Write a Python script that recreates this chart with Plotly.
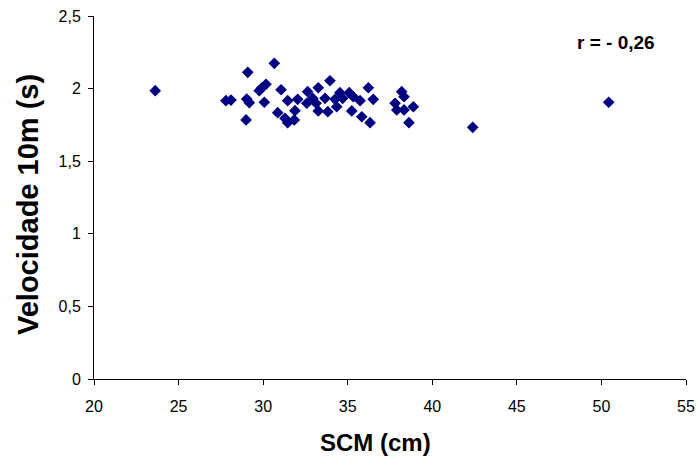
import plotly.graph_objects as go

scm = [23.62, 27.80, 28.10, 29.09, 29.03, 29.18, 28.99, 30.66, 29.77, 29.93,
       30.17, 30.07, 31.06, 30.86, 31.29, 31.45, 31.45, 31.88, 31.84, 32.04,
       32.63, 32.58, 32.93, 33.26, 33.13, 33.26, 33.66, 33.82, 33.95, 34.25,
       34.35, 34.54, 34.70, 35.09, 35.33, 35.24, 35.73, 35.83, 36.22, 36.51,
       36.32, 37.80, 38.19, 38.33, 37.90, 38.33, 38.88, 38.62, 42.39, 50.43]
vel = [1.986, 1.917, 1.921, 2.112, 1.928, 1.903, 1.784, 2.174, 1.986, 2.006,
       2.030, 1.906, 1.992, 1.834, 1.795, 1.765, 1.917, 1.848, 1.784, 1.926,
       1.979, 1.899, 1.933, 2.006, 1.899, 1.846, 1.933, 1.841, 2.054, 1.926,
       1.875, 1.972, 1.933, 1.972, 1.944, 1.846, 1.917, 1.806, 2.006, 1.926,
       1.765, 1.899, 1.979, 1.944, 1.853, 1.853, 1.875, 1.765, 1.733, 1.906]

x_ticks = [20, 25, 30, 35, 40, 45, 50, 55]
y_ticks = [0, 0.5, 1, 1.5, 2, 2.5]
y_ticktext = ["0", "0,5", "1", "1,5", "2", "2,5"]

x_title = "SCM (cm)"
y_title = "Velocidade 10m (s)"
r_text = "r = - 0,26"

fig = go.Figure()
fig.add_trace(go.Scatter(
    x=scm, y=vel, mode="markers",
    marker=dict(symbol="diamond", size=9, color="#000080",
                line=dict(width=0)),
    showlegend=False,
))

font_family = "Liberation Sans, Arial, sans-serif"
fig.update_layout(
    width=696, height=466,
    margin=dict(l=94, r=10, t=16, b=87),
    paper_bgcolor="white", plot_bgcolor="white",
    font=dict(family=font_family, color="black", size=16),
    xaxis=dict(
        range=[20, 55], tickvals=x_ticks, showgrid=False, zeroline=False,
        showline=True, linecolor="black", linewidth=1,
        ticks="outside", ticklen=5, tickcolor="black",
        tickfont=dict(size=16), ticklabelstandoff=8,
        ticklabeloverflow="allow", automargin=False,
    ),
    yaxis=dict(
        range=[0, 2.5], tickvals=y_ticks, ticktext=y_ticktext,
        showgrid=False, zeroline=False,
        showline=True, linecolor="black", linewidth=1,
        ticks="outside", ticklen=5, tickcolor="black",
        tickfont=dict(size=16), ticklabelstandoff=4,
        ticklabeloverflow="allow", automargin=False,
    ),
    annotations=[
        dict(x=0.882, y=0.927, xref="paper", yref="paper",
             xanchor="center", yanchor="middle",
             text="<b>" + r_text + "</b>", showarrow=False,
             font=dict(size=19, color="black")),
        dict(x=0.476, y=-0.175, xref="paper", yref="paper",
             xanchor="center", yanchor="middle",
             text="<b>" + x_title + "</b>", showarrow=False,
             font=dict(size=24, color="black")),
        dict(x=-0.1115, y=0.482, xref="paper", yref="paper",
             xanchor="center", yanchor="middle",
             text="<b>" + y_title + "</b>", showarrow=False, textangle=-90,
             font=dict(size=29, color="black")),
    ],
)

fig.write_html(
    "out.html",
    config={"displayModeBar": False},
    post_script="document.body.style.margin='0';"
                "document.body.style.overflow='hidden';",
)
